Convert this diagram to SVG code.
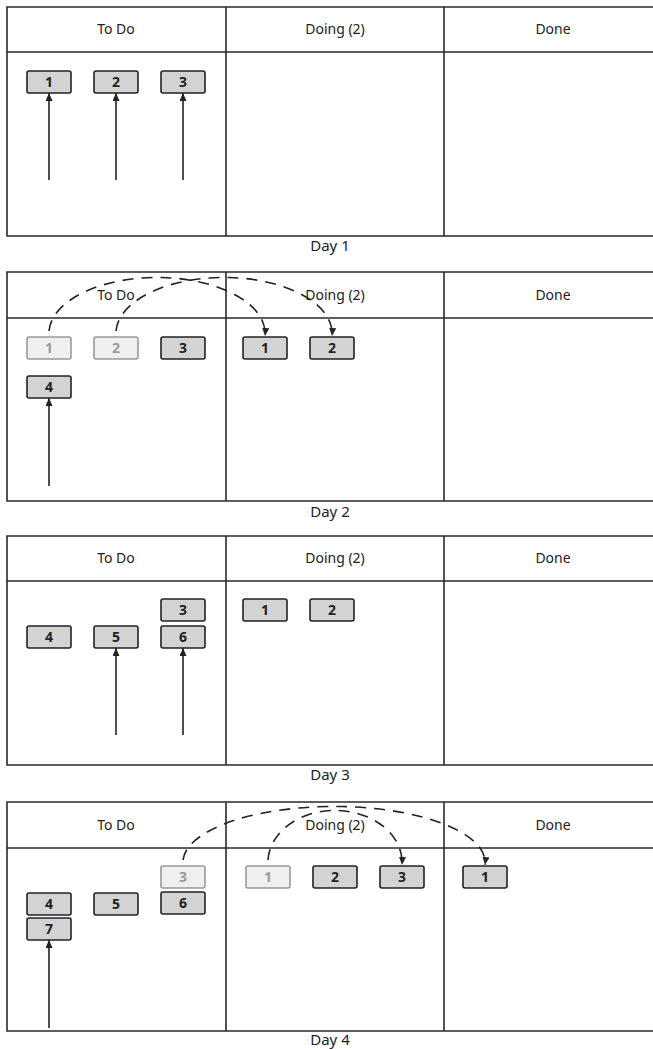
<svg xmlns="http://www.w3.org/2000/svg" width="653" height="1050" viewBox="0 0 653 1050">
<style>
.frame{fill:none;stroke:#2a2a2a;stroke-width:1.6}
.hdr{font-family:"Noto Sans","Open Sans",sans-serif;font-size:14px;fill:#222;text-anchor:middle}
.day{font-family:"Noto Sans","Open Sans",sans-serif;font-size:15px;fill:#222;text-anchor:middle}
.card rect{fill:#d3d3d3;stroke:#222;stroke-width:1.6}
.card text{font-family:"Noto Sans","Open Sans",sans-serif;font-size:14px;font-weight:bold;fill:#222;text-anchor:middle}
.faded rect{fill:#efefef;stroke:#9a9a9a;stroke-width:1.6}
.faded text{font-family:"Noto Sans","Open Sans",sans-serif;font-size:14px;font-weight:bold;fill:#9a9a9a;text-anchor:middle}
.solid{fill:none;stroke:#222;stroke-width:1.6;marker-end:url(#ah)}
.dash{fill:none;stroke:#222;stroke-width:1.6;stroke-dasharray:11 8;marker-end:url(#ah)}
</style>
<defs>
<marker id="ah" markerUnits="userSpaceOnUse" markerWidth="8" markerHeight="8" refX="8" refY="3.5" orient="auto">
<path d="M0,0 L8,3.5 L0,7 z" fill="#222"/>
</marker>
</defs>
<rect width="653" height="1050" fill="#fff"/>

<!-- Panel 1 -->
<g id="panel1">
<path class="frame" d="M665,7 H7 V236 H665 M7,52 H665 M226,7 V236 M444,7 V236"/>
<text class="hdr" x="116" y="34">To Do</text>
<text class="hdr" x="335" y="34">Doing (2)</text>
<text class="hdr" x="553" y="34">Done</text>
<text class="day" x="330" y="251">Day 1</text>
</g>
<g id="p1c1" class="card"><rect x="27" y="71" width="44" height="22" rx="2"/><text x="49" y="87">1</text></g>
<g id="p1c2" class="card"><rect x="94" y="71" width="44" height="22" rx="2"/><text x="116" y="87">2</text></g>
<g id="p1c3" class="card"><rect x="161" y="71" width="44" height="22" rx="2"/><text x="183" y="87">3</text></g>

<!-- Panel 2 -->
<g id="panel2">
<path class="frame" d="M665,272 H7 V501 H665 M7,318 H665 M226,272 V501 M444,272 V501"/>
<text class="hdr" x="116" y="300">To Do</text>
<text class="hdr" x="335" y="300">Doing (2)</text>
<text class="hdr" x="553" y="300">Done</text>
<text class="day" x="330" y="517">Day 2</text>
</g>
<g id="p2c1f" class="faded"><rect x="27" y="337" width="44" height="22" rx="2"/><text x="49" y="353">1</text></g>
<g id="p2c2f" class="faded"><rect x="94" y="337" width="44" height="22" rx="2"/><text x="116" y="353">2</text></g>
<g id="p2c3" class="card"><rect x="161" y="337" width="44" height="22" rx="2"/><text x="183" y="353">3</text></g>
<g id="p2c4" class="card"><rect x="27" y="376" width="44" height="22" rx="2"/><text x="49" y="392">4</text></g>
<g id="p2d1" class="card"><rect x="243" y="337" width="44" height="22" rx="2"/><text x="265" y="353">1</text></g>
<g id="p2d2" class="card"><rect x="310" y="337" width="44" height="22" rx="2"/><text x="332" y="353">2</text></g>

<!-- Panel 3 -->
<g id="panel3">
<path class="frame" d="M665,536 H7 V765 H665 M7,581 H665 M226,536 V765 M444,536 V765"/>
<text class="hdr" x="116" y="563">To Do</text>
<text class="hdr" x="335" y="563">Doing (2)</text>
<text class="hdr" x="553" y="563">Done</text>
<text class="day" x="330" y="780">Day 3</text>
</g>
<g id="p3c4" class="card"><rect x="27" y="626" width="44" height="22" rx="2"/><text x="49" y="642">4</text></g>
<g id="p3c5" class="card"><rect x="94" y="626" width="44" height="22" rx="2"/><text x="116" y="642">5</text></g>
<g id="p3c3" class="card"><rect x="161" y="599" width="44" height="22" rx="2"/><text x="183" y="615">3</text></g>
<g id="p3c6" class="card"><rect x="161" y="626" width="44" height="22" rx="2"/><text x="183" y="642">6</text></g>
<g id="p3d1" class="card"><rect x="243" y="599" width="44" height="22" rx="2"/><text x="265" y="615">1</text></g>
<g id="p3d2" class="card"><rect x="310" y="599" width="44" height="22" rx="2"/><text x="332" y="615">2</text></g>

<!-- Panel 4 -->
<g id="panel4">
<path class="frame" d="M665,802 H7 V1031 H665 M7,848 H665 M226,802 V1031 M444,802 V1031"/>
<text class="hdr" x="116" y="830">To Do</text>
<text class="hdr" x="335" y="830">Doing (2)</text>
<text class="hdr" x="553" y="830">Done</text>
<text class="day" x="330" y="1045">Day 4</text>
</g>
<g id="p4c3f" class="faded"><rect x="161" y="866" width="44" height="22" rx="2"/><text x="183" y="882">3</text></g>
<g id="p4c6" class="card"><rect x="161" y="892" width="44" height="22" rx="2"/><text x="183" y="908">6</text></g>
<g id="p4c4" class="card"><rect x="27" y="893" width="44" height="22" rx="2"/><text x="49" y="909">4</text></g>
<g id="p4c7" class="card"><rect x="27" y="918" width="44" height="22" rx="2"/><text x="49" y="934">7</text></g>
<g id="p4c5" class="card"><rect x="94" y="893" width="44" height="22" rx="2"/><text x="116" y="909">5</text></g>
<g id="p4d1f" class="faded"><rect x="246" y="866" width="44" height="22" rx="2"/><text x="268" y="882">1</text></g>
<g id="p4d2" class="card"><rect x="313" y="866" width="44" height="22" rx="2"/><text x="335" y="882">2</text></g>
<g id="p4d3" class="card"><rect x="380" y="866" width="44" height="22" rx="2"/><text x="402" y="882">3</text></g>
<g id="p4x1" class="card"><rect x="463" y="866" width="44" height="22" rx="2"/><text x="485" y="882">1</text></g>

<!-- Connectors -->
<g id="connectors">
<path class="solid" d="M49,180 V93"/>
<path class="solid" d="M116,180 V93"/>
<path class="solid" d="M183,180 V93"/>
<path class="solid" d="M49,486 V398"/>
<path class="dash" d="M49,331 A108,56 0 0 1 265,336"/>
<path class="dash" d="M116,331 A108,56 0 0 1 332,336"/>
<path class="solid" d="M116,735 V648"/>
<path class="solid" d="M183,735 V648"/>
<path class="solid" d="M49,1028 V940"/>
<path class="dash" d="M183,860 A151,56 0 0 1 485,865"/>
<path class="dash" d="M268,860 A67,52 0 0 1 402,865"/>
</g>
</svg>
